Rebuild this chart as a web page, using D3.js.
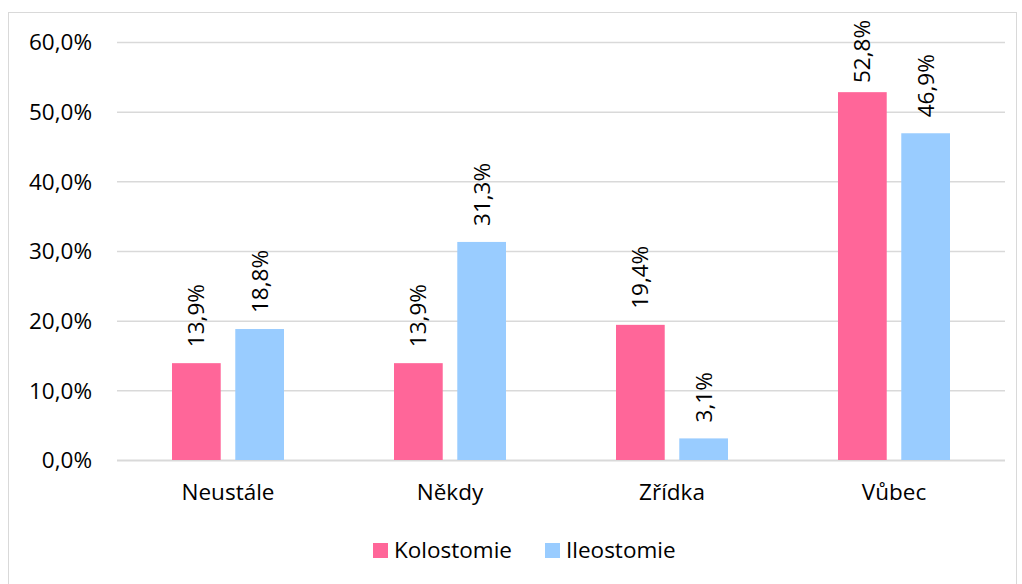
<!DOCTYPE html>
<html>
<head>
<meta charset="utf-8">
<script src="https://cdn.jsdelivr.net/npm/d3@7"></script>
<style>
  body { margin: 0; background: #fff; }
  text { font-family: "Open Sans", sans-serif; fill: #000; }
</style>
</head>
<body>
<div id="viz"></div>
<script>
var categories = ["Neustále", "Někdy", "Zřídka", "Vůbec"];
var seriesNames = ["Kolostomie", "Ileostomie"];
var kolostomie = [13.9, 13.9, 19.4, 52.8];
var ileostomie = [18.8, 31.3, 3.1, 46.9];
var yTicks = [0, 10, 20, 30, 40, 50, 60];

var colors = ["#ff6699", "#99ccff"],
    width = 1022,
    height = 584,
    margin = { top: 42, right: 17, bottom: 124, left: 117 },
    plotW = width - margin.left - margin.right,
    plotH = height - margin.top - margin.bottom,
    fs = "22.5px";

var fmt = function(v) { return d3.format(".1f")(v).replace(".", ",") + "%"; };

var svg = d3.select("#viz").append("svg")
  .attr("width", width)
  .attr("height", height);

svg.append("rect")
  .attr("x", 8.5).attr("y", 12.5)
  .attr("width", 1008).attr("height", 590)
  .attr("fill", "none")
  .attr("stroke", "#d9d9d9");

var g = svg.append("g")
  .attr("transform", "translate(" + margin.left + "," + margin.top + ")");

var y = d3.scaleLinear().domain([0, 60]).range([plotH, 0]);

var x0 = d3.scaleBand().domain(categories).range([0, plotW]);

var x1 = d3.scaleBand().domain(seriesNames)
  .range([x0.bandwidth() / 2 - 56, x0.bandwidth() / 2 + 56])
  .paddingInner(0.23);

// grid
g.selectAll(".grid").data(yTicks).enter().append("line")
  .attr("x1", 0).attr("x2", plotW)
  .attr("y1", function(d) { return y(d) + 0.5; })
  .attr("y2", function(d) { return y(d) + 0.5; })
  .attr("stroke", "#d9d9d9")
  .attr("stroke-width", function(d) { return d === 0 ? 2 : 1.5; });

// y axis labels
var yAxis = d3.axisLeft(y).tickValues(yTicks).tickSize(0).tickPadding(25).tickFormat(fmt);
g.append("g").call(yAxis)
  .call(function(s) { s.select(".domain").remove(); })
  .selectAll("text").style("font-size", fs).attr("dy", "0.35em");

// x axis labels
var xAxis = d3.axisBottom(x0).tickSize(0).tickPadding(24);
g.append("g").attr("transform", "translate(0," + plotH + ")").call(xAxis)
  .call(function(s) { s.select(".domain").remove(); })
  .selectAll("text").style("font-size", fs);

var table = categories.map(function(c, i) {
  return { cat: c, vals: [kolostomie[i], ileostomie[i]] };
});

var groups = g.selectAll(".cat").data(table).enter().append("g")
  .attr("transform", function(d) { return "translate(" + x0(d.cat) + ",0)"; });

groups.selectAll("rect").data(function(d) {
    return d.vals.map(function(v, j) { return { s: seriesNames[j], v: v, j: j }; });
  }).enter().append("rect")
  .attr("x", function(d) { return x1(d.s); })
  .attr("width", x1.bandwidth())
  .attr("y", function(d) { return y(d.v); })
  .attr("height", function(d) { return plotH - y(d.v); })
  .attr("fill", function(d) { return colors[d.j]; });

// data labels, pushed down if they would run past the top of the chart
groups.selectAll(".lbl").data(function(d) {
    return d.vals.map(function(v, j) { return { s: seriesNames[j], v: v }; });
  }).enter().append("text")
  .attr("dy", "0.35em")
  .style("font-size", fs)
  .text(function(d) { return fmt(d.v); })
  .attr("transform", function(d) {
    var len = this.getComputedTextLength();
    var pos = Math.max(y(d.v) - 16, 20 - margin.top + len);
    return "translate(" + (x1(d.s) + x1.bandwidth() / 2) + "," + pos + ") rotate(-90)";
  });

// legend
var legend = svg.append("g").attr("transform", "translate(373,543)");
var legX = [0, 172];
seriesNames.forEach(function(n, i) {
  legend.append("rect").attr("x", legX[i]).attr("y", 0)
    .attr("width", 15).attr("height", 15).attr("fill", colors[i]);
  legend.append("text").attr("x", legX[i] + 21).attr("y", 15)
    .style("font-size", fs).text(n);
});
</script>
</body>
</html>
